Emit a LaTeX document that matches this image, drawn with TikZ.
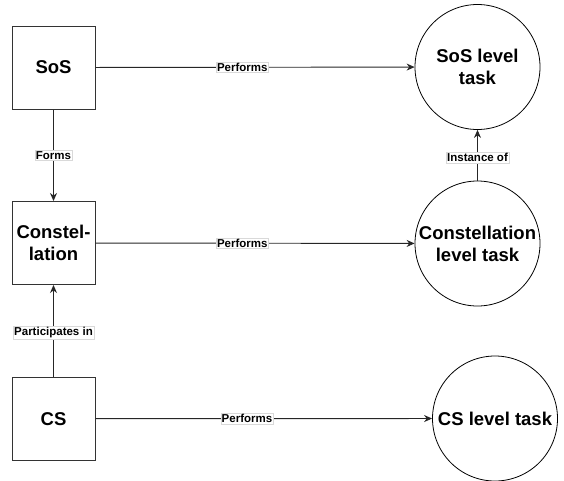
\documentclass[tikz,border=0pt]{standalone}
\usepackage{fontspec}
\setmainfont{Liberation Sans}
\usetikzlibrary{arrows.meta}
\begin{document}
\begin{tikzpicture}[x=1pt,y=-1pt,
  sysbox/.style={draw=black!80,line width=1pt,minimum width=83pt,minimum height=83pt,inner sep=0pt,align=center,font=\fontsize{18.5}{22}\selectfont\bfseries},
  taskcirc/.style={draw=black,line width=0.8pt,circle,minimum size=125pt,inner sep=0pt,align=center,font=\fontsize{18.5}{22}\selectfont\bfseries},
  conn/.style={draw=black!85,line width=0.9pt,-{Stealth[length=8pt,width=7pt]}},
  lbl/.style={fill=white,draw=black!15,line width=0.4pt,inner sep=1pt,font=\fontsize{11.5}{13}\selectfont\bfseries,text=black}]
\useasboundingbox (0,0) rectangle (564,480);
\node[sysbox] (sos) at (53.5,67.5) {SoS};
\node[sysbox] (con) at (53.5,243) {Constel-\\lation};
\node[sysbox] (cs) at (53.5,418.7) {CS};
\node[taskcirc] (sost) at (477.5,67) {SoS level\\task};
\node[taskcirc] (cont) at (477.5,243.5) {Constellation\\level task};
\node[taskcirc] (cst) at (495,418.5) {CS level task};
\draw[conn] (sos) -- node[lbl,pos=0.46] {Performs} (sost);
\draw[conn] (con) -- node[lbl,pos=0.46] {Performs} (cont);
\draw[conn] (cs) -- node[lbl,pos=0.45] {Performs} (cst);
\draw[conn] (sos) -- node[lbl,pos=0.5] {Forms} (con);
\draw[conn] (cs) -- node[lbl,pos=0.48] {Participates in} (con);
\draw[conn] (cont) -- node[lbl,pos=0.45] {Instance of} (sost);
\end{tikzpicture}
\end{document}
